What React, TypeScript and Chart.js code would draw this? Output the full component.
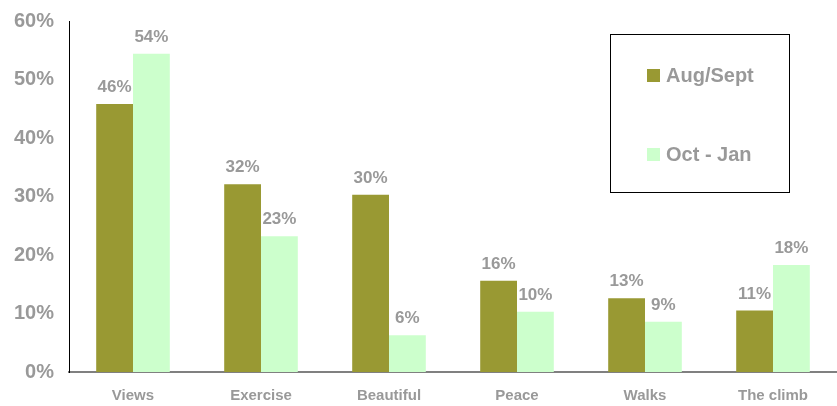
import React, { useEffect, useRef } from "react";
import { Chart, registerables } from "chart.js";

Chart.register(...registerables);

const categories = ["Views", "Exercise", "Beautiful", "Peace", "Walks", "The climb"];
const augSept = [45.8, 32.1, 30.3, 15.6, 12.6, 10.5];
const octJan = [54.4, 23.2, 6.3, 10.3, 8.6, 18.3];
const seriesNames = ["Aug/Sept", "Oct - Jan"];
const yTicks = [0, 10, 20, 30, 40, 50, 60];

const OLIVE = "#999933";
const MINT = "#CCFFCC";
const GREY = "#999999";
const FONT = "Arial, 'Liberation Sans', sans-serif";

const overlayPlugin = {
  id: "overlay",
  afterDatasetsDraw(chart: any) {
    const ctx = chart.ctx;
    ctx.save();
    ctx.font = `bold 17px ${FONT}`;
    ctx.fillStyle = GREY;
    ctx.textAlign = "center";
    ctx.textBaseline = "bottom";
    chart.data.datasets.forEach((ds: any, di: number) => {
      const meta = chart.getDatasetMeta(di);
      meta.data.forEach((bar: any, i: number) => {
        ctx.fillText(Math.round(ds.data[i]) + "%", bar.x, bar.y - 8);
      });
    });
    // legend box
    const bx = 610, by = 34, bw = 179, bh = 158;
    ctx.strokeStyle = "#000000";
    ctx.lineWidth = 1;
    ctx.strokeRect(bx + 0.5, by + 0.5, bw, bh);
    const items = [
      { name: seriesNames[0], color: OLIVE, y: 75 },
      { name: seriesNames[1], color: MINT, y: 154 },
    ];
    ctx.font = `bold 20px ${FONT}`;
    ctx.textAlign = "left";
    ctx.textBaseline = "middle";
    items.forEach((it) => {
      ctx.fillStyle = it.color;
      ctx.fillRect(647, it.y - 6, 13, 13);
      ctx.fillStyle = GREY;
      ctx.fillText(it.name, 666, it.y + 1);
    });
    ctx.restore();
  },
};

export default function App() {
  const ref = useRef<HTMLCanvasElement>(null);
  useEffect(() => {
    document.body.style.margin = "0";
    const chart = new Chart(ref.current!, {
      type: "bar",
      data: {
        labels: categories,
        datasets: [
          { label: seriesNames[0], data: augSept, backgroundColor: OLIVE },
          { label: seriesNames[1], data: octJan, backgroundColor: MINT },
        ],
      },
      options: {
        animation: false,
        responsive: false,
        layout: { padding: { top: 21, right: 0, left: 0, bottom: 0 } },
        plugins: { legend: { display: false }, tooltip: { enabled: false } },
        datasets: { bar: { categoryPercentage: 0.575, barPercentage: 1 } },
        scales: {
          x: {
            grid: { display: false, drawTicks: false },
            border: { color: "#808080", width: 2 },
            afterFit: (axis: any) => {
              axis.height = 34;
              axis.paddingLeft = 0;
              axis.paddingRight = 0;
            },
            ticks: { color: GREY, font: { family: FONT, size: 15, weight: "bold" }, padding: 15 },
          },
          y: {
            min: 0,
            max: 60,
            afterBuildTicks: (axis: any) => {
              axis.ticks = yTicks.map((v) => ({ value: v }));
            },
            afterFit: (axis: any) => {
              axis.width = 69;
              axis.paddingTop = 0;
              axis.paddingBottom = 0;
            },
            grid: { display: false, drawTicks: false },
            border: { color: "#000000", width: 1 },
            ticks: {
              color: GREY,
              font: { family: FONT, size: 20, weight: "bold" },
              padding: 15,
              callback: (v: any) => v + "%",
            },
          },
        },
      },
      plugins: [overlayPlugin],
    });
    return () => chart.destroy();
  }, []);
  return <canvas ref={ref} width={837} height={406} style={{ display: "block" }} />;
}
